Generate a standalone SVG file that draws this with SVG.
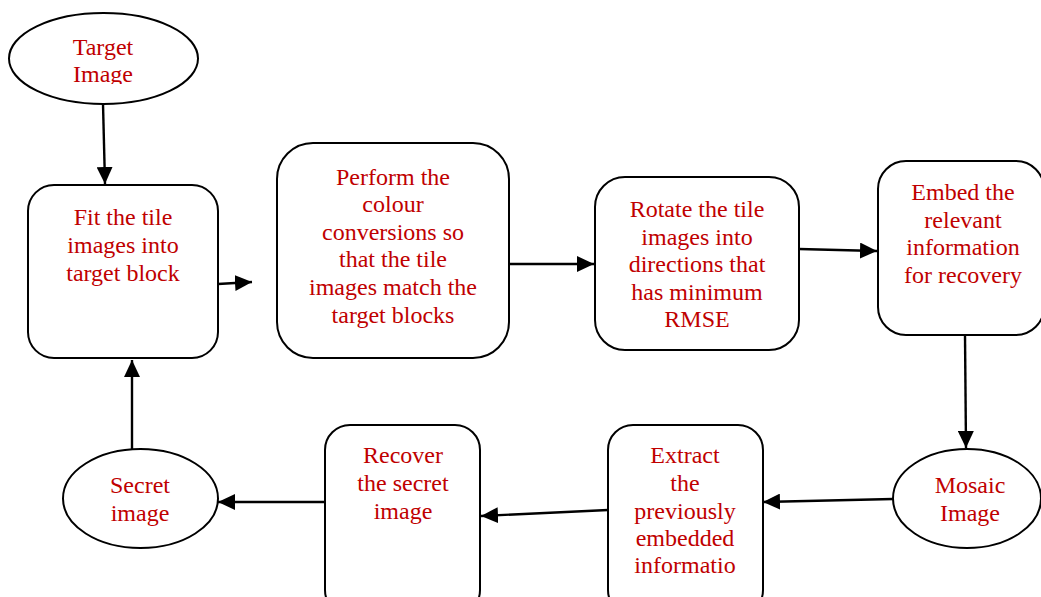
<svg xmlns="http://www.w3.org/2000/svg" width="1041" height="597" viewBox="0 0 1041 597">
  <defs>
    <style>
      .shape { fill: #ffffff; stroke: #000000; stroke-width: 2; }
      .link { fill: none; stroke: #000000; stroke-width: 2.4; }
      .label { font-family: "Liberation Serif", "Times New Roman", serif; font-size: 24px; fill: #c00000; text-anchor: middle; }
    </style>
    <marker id="arrow" markerUnits="userSpaceOnUse" markerWidth="18" markerHeight="16" refX="17" refY="8" orient="auto">
      <path d="M0,0 L17,8 L0,16 z" fill="#000000"/>
    </marker>
    <clipPath id="clipTarget">
      <rect x="0" y="0" width="300" height="84"/>
    </clipPath>
  </defs>
  <rect x="0" y="0" width="1041" height="597" fill="#ffffff"/>

  <!-- connectors -->
  <g id="connectors">
    <line class="link" x1="103" y1="104" x2="105" y2="184" marker-end="url(#arrow)"/>
    <line class="link" x1="218" y1="284" x2="252" y2="282" marker-end="url(#arrow)"/>
    <line class="link" x1="509" y1="264" x2="594" y2="264" marker-end="url(#arrow)"/>
    <line class="link" x1="799" y1="249" x2="877" y2="251" marker-end="url(#arrow)"/>
    <line class="link" x1="965" y1="335" x2="966" y2="448" marker-end="url(#arrow)"/>
    <line class="link" x1="893" y1="499" x2="763" y2="502" marker-end="url(#arrow)"/>
    <line class="link" x1="608" y1="510" x2="481" y2="516" marker-end="url(#arrow)"/>
    <line class="link" x1="325" y1="502" x2="218" y2="502" marker-end="url(#arrow)"/>
    <line class="link" x1="132" y1="449" x2="132" y2="360" marker-end="url(#arrow)"/>
  </g>

  <g id="target-image">
    <ellipse class="shape" cx="103.5" cy="58.5" rx="94.5" ry="45.5"/>
    <g clip-path="url(#clipTarget)">
      <text class="label" x="103" y="55">Target</text>
      <text class="label" x="103" y="82">Image</text>
    </g>
  </g>

  <g id="fit-tiles">
    <rect class="shape" x="28" y="185" width="190" height="173" rx="26"/>
    <text class="label" x="123" y="225">Fit the tile</text>
    <text class="label" x="123" y="253">images into</text>
    <text class="label" x="123" y="281">target block</text>
  </g>

  <g id="colour-conversion">
    <rect class="shape" x="277" y="143" width="232" height="215" rx="36"/>
    <text class="label" x="393" y="185">Perform the</text>
    <text class="label" x="393" y="212">colour</text>
    <text class="label" x="393" y="240">conversions so</text>
    <text class="label" x="393" y="267">that the tile</text>
    <text class="label" x="393" y="295">images match the</text>
    <text class="label" x="393" y="323">target blocks</text>
  </g>

  <g id="rotate-tiles">
    <rect class="shape" x="595" y="177" width="204" height="173" rx="30"/>
    <text class="label" x="697" y="217">Rotate the tile</text>
    <text class="label" x="697" y="245">images into</text>
    <text class="label" x="697" y="272">directions that</text>
    <text class="label" x="697" y="300">has minimum</text>
    <text class="label" x="697" y="327">RMSE</text>
  </g>

  <g id="embed-info">
    <rect class="shape" x="878" y="161" width="166" height="174" rx="28"/>
    <text class="label" x="963" y="200">Embed the</text>
    <text class="label" x="963" y="228">relevant</text>
    <text class="label" x="963" y="255">information</text>
    <text class="label" x="963" y="283">for recovery</text>
  </g>

  <g id="mosaic-image">
    <ellipse class="shape" cx="967" cy="498.5" rx="74" ry="49.5"/>
    <text class="label" x="970" y="493">Mosaic</text>
    <text class="label" x="970" y="521">Image</text>
  </g>

  <g id="extract-info">
    <rect class="shape" x="608" y="425" width="155" height="190" rx="25"/>
    <text class="label" x="685" y="463">Extract</text>
    <text class="label" x="685" y="491">the</text>
    <text class="label" x="685" y="519">previously</text>
    <text class="label" x="685" y="546">embedded</text>
    <text class="label" x="685" y="573">informatio</text>
  </g>

  <g id="recover-secret">
    <rect class="shape" x="325" y="425" width="155" height="190" rx="25"/>
    <text class="label" x="403" y="463">Recover</text>
    <text class="label" x="403" y="491">the secret</text>
    <text class="label" x="403" y="519">image</text>
  </g>

  <g id="secret-image">
    <ellipse class="shape" cx="140.5" cy="498.5" rx="77.5" ry="49.5"/>
    <text class="label" x="140" y="493">Secret</text>
    <text class="label" x="140" y="521">image</text>
  </g>
</svg>
